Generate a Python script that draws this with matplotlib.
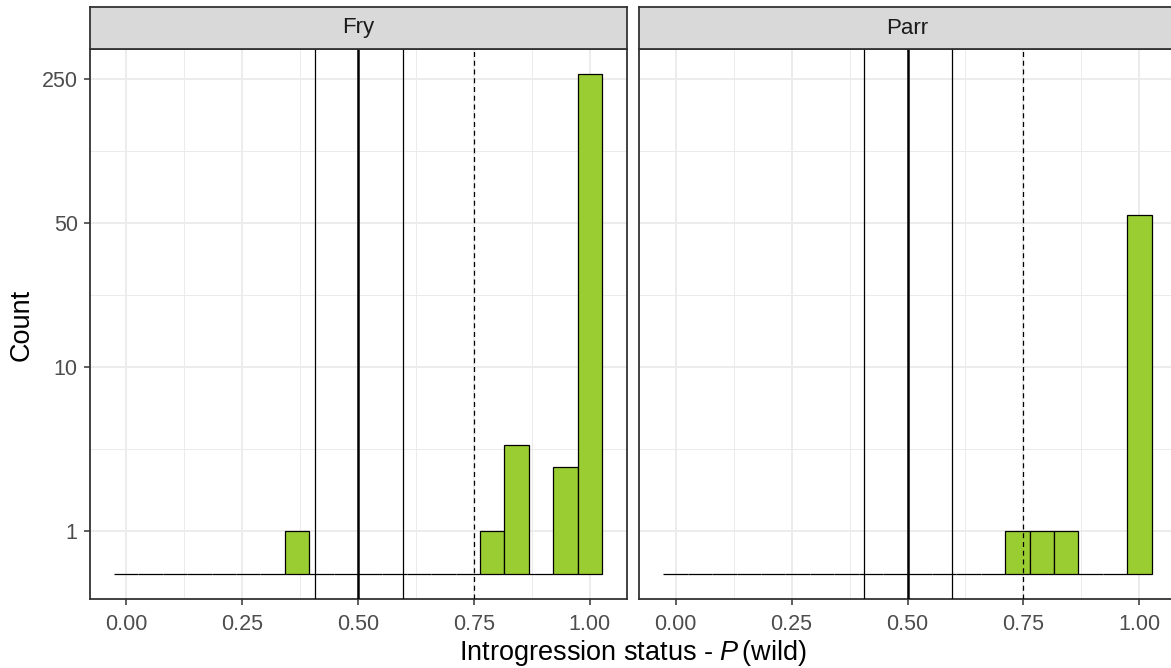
import numpy as np
import matplotlib
matplotlib.use("Agg")
import matplotlib.pyplot as plt

plt.rcParams["font.family"] = ["Liberation Sans", "DejaVu Sans"]
plt.rcParams["mathtext.fontset"] = "custom"
plt.rcParams["mathtext.rm"] = "Liberation Sans"
plt.rcParams["mathtext.it"] = "Liberation Sans:italic"

# histogram counts, 20 bins of width 1/19 centred on 0, 1/19, ..., 1
panels = ["Fry", "Parr"]
fry_counts = [0, 0, 0, 0, 0, 0, 0, 1, 0, 0, 0, 0, 0, 0, 0, 1, 4, 0, 3, 265]
parr_counts = [0, 0, 0, 0, 0, 0, 0, 0, 0, 0, 0, 0, 0, 0, 1, 1, 1, 0, 0, 55]
# reference lines
thin_lines = [0.407, 0.596]
mid_line = 0.5
dashed_line = 0.75

x_ticks = [0.0, 0.25, 0.5, 0.75, 1.0]
x_labels = ["0.00", "0.25", "0.50", "0.75", "1.00"]
y_ticks = [1, 10, 50, 250]

W, H = 1171, 668
fig = plt.figure(figsize=(W / 100, H / 100), dpi=100)

grey20 = "#333333"
grey30 = "#4D4D4D"
grey92 = "#EBEBEB"
fill = "#9ACD32"

centers = np.linspace(0, 1, 20)
width = 1 / 19
x_lo = -width / 2 - (1 + width) * 0.05
x_hi = 1 + width / 2 + (1 + width) * 0.05

# pseudo-log axis: asinh(y / 2), padded 5% each side
t_max = np.arcsinh(max(max(fry_counts), max(parr_counts)) / 2)
y_lo = 2 * np.sinh(-0.05 * t_max)
y_hi = 2 * np.sinh(1.05 * t_max)

t_major = np.arcsinh(np.array(y_ticks) / 2)
y_minor = 2 * np.sinh((t_major[:-1] + t_major[1:]) / 2)

panel_top, panel_bot = 49, 599
strip_top = 7
panel_w = 537
lefts = [89.5, 639]

for i, (name, counts) in enumerate(zip(panels, [fry_counts, parr_counts])):
    left = lefts[i]
    ax = fig.add_axes([left / W, 1 - panel_bot / H, panel_w / W,
                       (panel_bot - panel_top) / H])
    ax.set_yscale("asinh", linear_width=2)
    ax.set_xlim(x_lo, x_hi)
    ax.set_ylim(y_lo, y_hi)

    ax.set_xticks(x_ticks)
    ax.set_xticklabels(x_labels)
    ax.set_xticks([0.125, 0.375, 0.625, 0.875], minor=True)
    ax.set_yticks(y_ticks)
    ax.set_yticklabels([str(v) for v in y_ticks])
    ax.set_yticks(y_minor, minor=True)

    ax.grid(which="major", color=grey92, linewidth=1.3)
    ax.grid(which="minor", color=grey92, linewidth=0.7)
    ax.set_axisbelow(True)

    ax.bar(centers, counts, width=width, color=fill, edgecolor="black",
           linewidth=0.9, zorder=2)

    for xv in thin_lines:
        ax.axvline(xv, color="black", linewidth=0.9, zorder=3)
    ax.axvline(mid_line, color="black", linewidth=1.8, zorder=3)
    ax.axvline(dashed_line, color="black", linewidth=0.9,
               linestyle=(0, (4, 3)), zorder=3)

    for sp in ax.spines.values():
        sp.set_color(grey20)
        sp.set_linewidth(1.3)

    ax.tick_params(which="major", length=4, width=1.1, color=grey20,
                   labelcolor=grey30, labelsize=15.5)
    ax.tick_params(axis="x", which="major", pad=6.5)
    ax.tick_params(axis="y", which="major", pad=4.5)
    ax.tick_params(which="minor", length=0)
    if i > 0:
        ax.tick_params(axis="y", which="both", left=False, labelleft=False)

    # facet strip
    sax = fig.add_axes([left / W, 1 - panel_top / H, panel_w / W,
                        (panel_top - strip_top) / H])
    sax.set_facecolor("#D9D9D9")
    sax.set_xticks([])
    sax.set_yticks([])
    for sp in sax.spines.values():
        sp.set_color(grey20)
        sp.set_linewidth(1.3)
    sax.text(0.5, 0.5, name, ha="center", va="center", fontsize=16,
             color="#1A1A1A", transform=sax.transAxes)

fig.text(22 / W, 1 - 325 / H, "Count", rotation=90, ha="center",
         va="center", fontsize=19.5, color="black")
fig.text(633 / W, 1 - 653 / H, r"Introgression status - $\mathit{P}\,$(wild)",
         ha="center", va="center", fontsize=19.5, color="black")

fig.savefig("out.png", dpi=100)
